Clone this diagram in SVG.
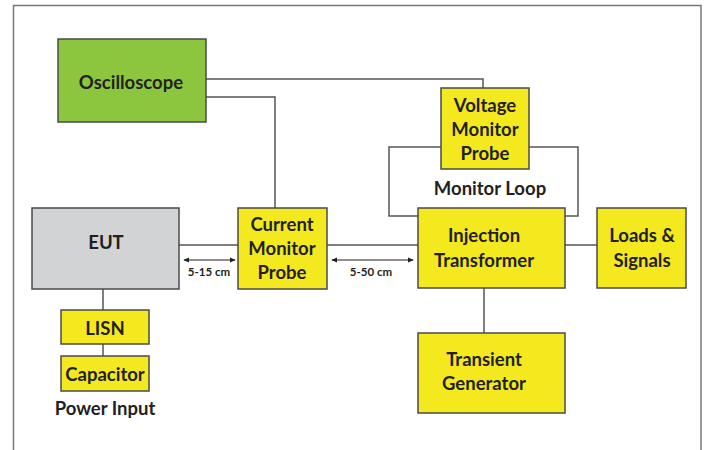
<svg xmlns="http://www.w3.org/2000/svg" width="706" height="450" viewBox="0 0 706 450">
<style>
.box{stroke:#4a4a4a;stroke-width:1.5}
.y{fill:#f4e91f}
.t{font-family:Lato,"Liberation Sans",sans-serif;font-weight:bold;font-size:18.5px;fill:#231f20;text-anchor:middle;dominant-baseline:central}
.s{font-family:Lato,"Liberation Sans",sans-serif;font-weight:bold;font-size:11.5px;fill:#231f20;text-anchor:middle;dominant-baseline:central}
.ln{stroke:#555;stroke-width:1.5;fill:none}
</style>
<defs>
<marker id="ah" viewBox="0 0 8 8" refX="7" refY="4" markerWidth="6" markerHeight="6" orient="auto-start-reverse" markerUnits="userSpaceOnUse">
<path d="M0,0.5 L8,4 L0,7.5 Z" fill="#231f20"/>
</marker>
</defs>
<rect x="0" y="0" width="706" height="450" fill="#fff"/>
<path d="M13.5,450 V5.5 H701 V450" fill="none" stroke="#777" stroke-width="1.5"/>
<g id="connectors">
<path class="ln" d="M206,79 H483 V88"/>
<path class="ln" d="M206,97 H275 V208"/>
<path class="ln" d="M441,147 H389 V216 H418"/>
<path class="ln" d="M529,147 H578 V216 H565"/>
<path class="ln" d="M179,245 H238"/>
<path class="ln" d="M327,245 H418"/>
<path class="ln" d="M565,245 H597"/>
<path class="ln" d="M484,288 V333"/>
<path class="ln" d="M103,289 V310"/>
<path class="ln" d="M103,344 V356"/>
<path stroke="#231f20" stroke-width="1.2" fill="none" d="M184,260 H235" marker-start="url(#ah)" marker-end="url(#ah)"/>
<path stroke="#231f20" stroke-width="1.2" fill="none" d="M332,260 H413" marker-start="url(#ah)" marker-end="url(#ah)"/>
<text class="s" x="209" y="271">5-15 cm</text>
<text class="s" x="371" y="271">5-50 cm</text>
</g>
<g id="oscilloscope">
<rect class="box" x="58" y="39" width="148" height="83" fill="#8cc63f"/>
<text class="t" x="131" y="82">Oscilloscope</text>
</g>
<g id="voltage-probe">
<rect class="box y" x="441" y="88" width="88" height="81"/>
<text class="t" x="485" y="105">Voltage</text>
<text class="t" x="485" y="129">Monitor</text>
<text class="t" x="485" y="153">Probe</text>
</g>
<g id="monitor-loop">
<text class="t" x="490" y="188">Monitor Loop</text>
</g>
<g id="eut">
<rect class="box" x="32" y="208" width="147" height="81" fill="#d2d3d5"/>
<text class="t" x="106" y="242">EUT</text>
</g>
<g id="current-probe">
<rect class="box y" x="238" y="208" width="89" height="81"/>
<text class="t" x="282" y="224">Current</text>
<text class="t" x="282" y="248">Monitor</text>
<text class="t" x="282" y="272">Probe</text>
</g>
<g id="injection">
<rect class="box y" x="418" y="208" width="147" height="80"/>
<text class="t" x="484" y="235">Injection</text>
<text class="t" x="484" y="260">Transformer</text>
</g>
<g id="loads">
<rect class="box y" x="597" y="208" width="89" height="80"/>
<text class="t" x="642" y="235">Loads &amp;</text>
<text class="t" x="642" y="260">Signals</text>
</g>
<g id="transient">
<rect class="box y" x="418" y="333" width="147" height="80"/>
<text class="t" x="484" y="359">Transient</text>
<text class="t" x="484" y="383">Generator</text>
</g>
<g id="lisn">
<rect class="box y" x="61" y="310" width="88" height="34"/>
<text class="t" x="105" y="328">LISN</text>
</g>
<g id="capacitor">
<rect class="box y" x="61" y="356" width="88" height="35"/>
<text class="t" x="105" y="374">Capacitor</text>
</g>
<g id="power-input">
<text class="t" x="105" y="408">Power Input</text>
</g>
</svg>
